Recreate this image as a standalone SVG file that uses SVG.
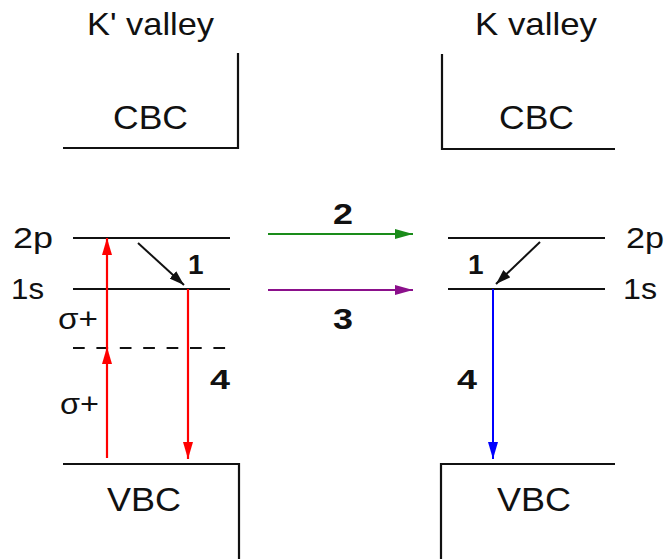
<svg xmlns="http://www.w3.org/2000/svg" width="665" height="559" viewBox="0 0 665 559">
<style>
.t{font-family:"Liberation Sans",Arial,sans-serif;fill:#111;}
.b{font-family:"Liberation Sans",Arial,sans-serif;font-weight:bold;fill:#111;}
.band{fill:none;stroke:#111;stroke-width:2.2;}
.lvl{stroke:#111;stroke-width:2.2;}
.dash{stroke:#111;stroke-width:2.2;stroke-dasharray:11.7 11.7;}
</style>
<defs>
<marker id="ar" markerUnits="userSpaceOnUse" markerWidth="17" markerHeight="10" refX="17" refY="5" orient="auto"><path d="M0,0 L17,5 L0,10 z" fill="#ff0000"/></marker>
<marker id="ab" markerUnits="userSpaceOnUse" markerWidth="17" markerHeight="10" refX="17" refY="5" orient="auto"><path d="M0,0 L17,5 L0,10 z" fill="#0000ff"/></marker>
<marker id="ag" markerUnits="userSpaceOnUse" markerWidth="18" markerHeight="10" refX="18" refY="5" orient="auto"><path d="M0,0 L18,5 L0,10 z" fill="#1a8c1a"/></marker>
<marker id="ap" markerUnits="userSpaceOnUse" markerWidth="18" markerHeight="10" refX="18" refY="5" orient="auto"><path d="M0,0 L18,5 L0,10 z" fill="#8b108b"/></marker>
<marker id="ak" markerUnits="userSpaceOnUse" markerWidth="15" markerHeight="10" refX="15" refY="5" orient="auto"><path d="M0,0 L15,5 L0,10 z" fill="#111"/></marker>
</defs>

<g id="title-kprime"><text class="t" x="87" y="35" font-size="32" textLength="127" lengthAdjust="spacingAndGlyphs">K' valley</text></g>
<g id="title-k"><text class="t" x="475" y="35" font-size="32" textLength="122" lengthAdjust="spacingAndGlyphs">K valley</text></g>

<g id="cbc-left"><path class="band" d="M63,148 H238 V53"/><text class="t" x="113" y="129" font-size="33" textLength="75" lengthAdjust="spacingAndGlyphs">CBC</text></g>
<g id="cbc-right"><path class="band" d="M442,54 V149 H615"/><text class="t" x="499" y="129" font-size="33" textLength="75" lengthAdjust="spacingAndGlyphs">CBC</text></g>
<g id="vbc-left"><path class="band" d="M63,464 H239 V559"/><text class="t" x="107" y="511" font-size="33" textLength="74" lengthAdjust="spacingAndGlyphs">VBC</text></g>
<g id="vbc-right"><path class="band" d="M441,559 V464 H615"/><text class="t" x="497" y="511" font-size="33" textLength="74" lengthAdjust="spacingAndGlyphs">VBC</text></g>

<g id="levels-left">
<line class="lvl" x1="73" y1="238" x2="230" y2="238"/>
<line class="lvl" x1="73" y1="289" x2="230" y2="289"/>
<line class="dash" x1="73" y1="348" x2="228" y2="348"/>
<text class="t" x="13" y="248" font-size="30" textLength="40" lengthAdjust="spacingAndGlyphs">2p</text>
<text class="t" x="11" y="299" font-size="30" textLength="33" lengthAdjust="spacingAndGlyphs">1s</text>
<text class="t" x="58" y="329" font-size="29" textLength="40" lengthAdjust="spacingAndGlyphs">σ+</text>
<text class="t" x="60" y="414" font-size="29" textLength="39" lengthAdjust="spacingAndGlyphs">σ+</text>
</g>
<g id="levels-right">
<line class="lvl" x1="448" y1="238" x2="605" y2="238"/>
<line class="lvl" x1="448" y1="289" x2="605" y2="289"/>
<text class="t" x="626" y="248" font-size="30" textLength="38" lengthAdjust="spacingAndGlyphs">2p</text>
<text class="t" x="623" y="299" font-size="30" textLength="34" lengthAdjust="spacingAndGlyphs">1s</text>
</g>

<g id="connectors">
<line x1="107" y1="458" x2="107" y2="347" stroke="#ff0000" stroke-width="2.2" marker-end="url(#ar)"/>
<line x1="107" y1="347" x2="107" y2="238" stroke="#ff0000" stroke-width="2.2" marker-end="url(#ar)"/>
<line x1="188" y1="289" x2="188" y2="459" stroke="#ff0000" stroke-width="2.2" marker-end="url(#ar)"/>
<line x1="138" y1="243" x2="184" y2="285" stroke="#111" stroke-width="2" marker-end="url(#ak)"/>
<line x1="540" y1="242" x2="496" y2="284" stroke="#111" stroke-width="2" marker-end="url(#ak)"/>
<line x1="493" y1="289" x2="493" y2="459" stroke="#0000ff" stroke-width="2" marker-end="url(#ab)"/>
<line x1="268" y1="234" x2="413" y2="234" stroke="#1a8c1a" stroke-width="2.2" marker-end="url(#ag)"/>
<line x1="268" y1="290" x2="413" y2="290" stroke="#8b108b" stroke-width="2.2" marker-end="url(#ap)"/>
</g>

<g id="labels">
<text class="b" x="188" y="274" font-size="28">1</text>
<text class="b" x="468" y="274" font-size="28">1</text>
<text class="b" x="333" y="224" font-size="29" textLength="20" lengthAdjust="spacingAndGlyphs">2</text>
<text class="b" x="333" y="329" font-size="29" textLength="20" lengthAdjust="spacingAndGlyphs">3</text>
<text class="b" x="210" y="389" font-size="28" textLength="20" lengthAdjust="spacingAndGlyphs">4</text>
<text class="b" x="457" y="389" font-size="28" textLength="20" lengthAdjust="spacingAndGlyphs">4</text>
</g>
</svg>
